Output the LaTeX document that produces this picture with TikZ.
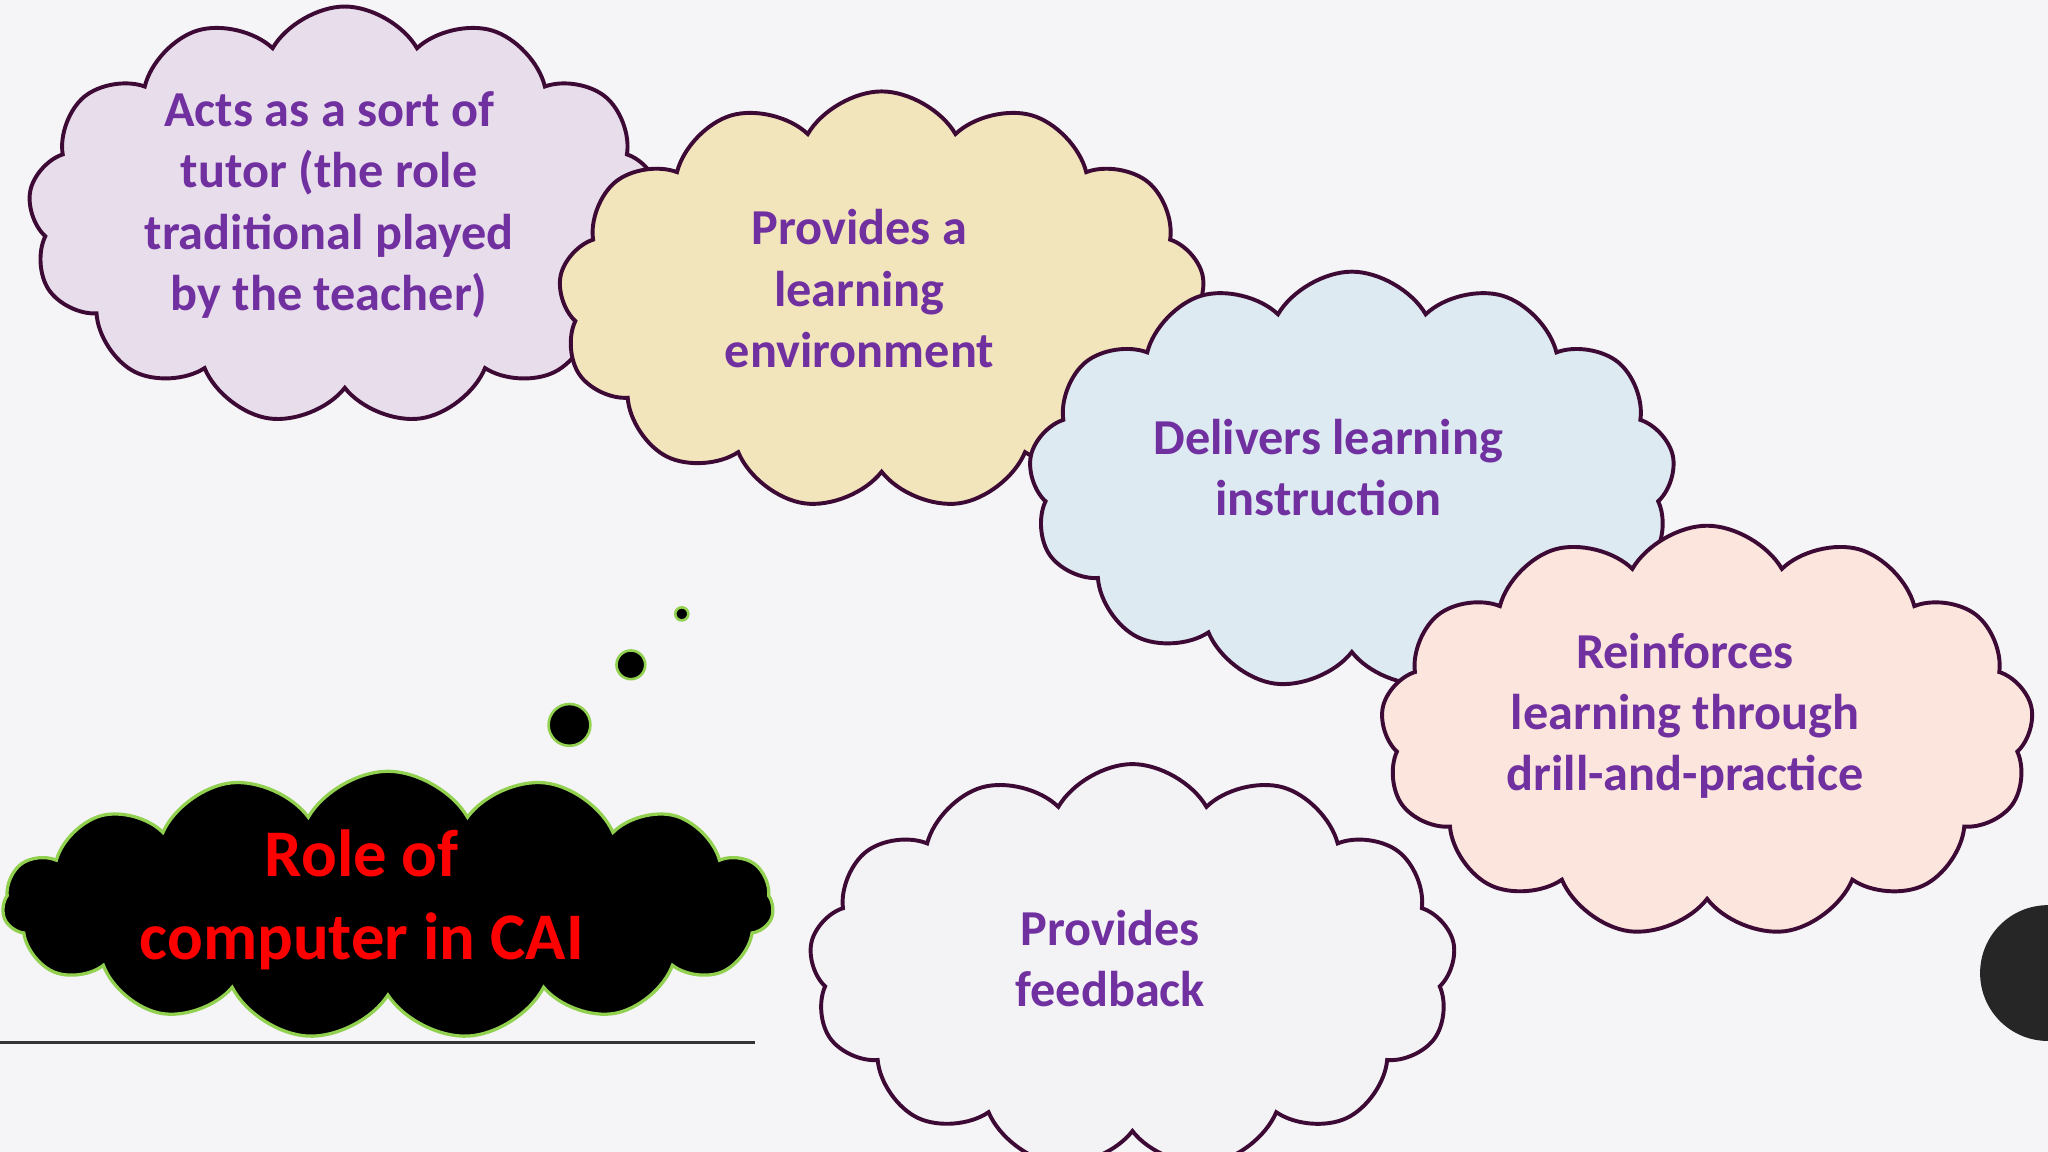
\documentclass[tikz,border=0pt]{standalone}
\usepackage{fontspec}
\setmainfont{Carlito}
\usetikzlibrary{shapes.symbols}
\definecolor{bg}{HTML}{F5F4F7}
\definecolor{edge}{HTML}{3D0A35}
\definecolor{txt}{HTML}{7030A0}
\definecolor{grn}{HTML}{92D050}
\definecolor{fa}{HTML}{E8DDEA}
\definecolor{fb}{HTML}{F2E4BB}
\definecolor{fc}{HTML}{DDEAF2}
\definecolor{fd}{HTML}{FBE5DC}
\definecolor{fe}{HTML}{F3F2F5}
\tikzset{
 cl/.style={cloud, cloud puffs=13, cloud puff arc=120, aspect=1.55, draw=edge, line width=3pt, inner sep=0pt},
 lbl/.style={text=txt, font=\bfseries\fontsize{38.5}{47}\selectfont, align=center},
 bub/.style={circle, fill=black, draw=grn, line width=2pt, inner sep=0pt}
}
\begin{document}
\begin{tikzpicture}[x=1pt,y=-1pt]
\fill[bg] (0,0) rectangle (1568,882);
\useasboundingbox (0,0) rectangle (1568,882);
\node[cl, fill=fa, minimum width=485pt, minimum height=320pt] (c1) at (264,165) {};
\node[lbl] (t1) at (252,157) {Acts as a sort of\\tutor (the role\\traditional played\\by the teacher)};
\node[cl, fill=fb, minimum width=495pt, minimum height=320pt] (c2) at (675,230) {};
\node[lbl] (t2) at (658,221) {Provides a\\learning\\environment};
\node[cl, fill=fc, minimum width=495pt, minimum height=320pt] (c3) at (1035,368) {};
\node[lbl] (t3) at (1017,358) {Delivers learning\\instruction};
\node[cl, fill=fe, minimum width=495pt, minimum height=310pt] (c5) at (867,740) {};
\node[lbl] (t5) at (850,734) {Provides\\feedback};
\node[cl, fill=fd, minimum width=500pt, minimum height=315pt] (c4) at (1307,560) {};
\node[lbl] (t4) at (1290,548) {Reinforces\\learning through\\drill-and-practice};
\node[cloud, cloud puffs=15, cloud puff arc=120, aspect=2.9, fill=black, draw=grn, line width=2.5pt, inner sep=0pt, minimum width=590pt, minimum height=205pt] (c6) at (297,693) {};
\node[text=red, font=\bfseries\fontsize{51}{63}\selectfont, align=center] (t6) at (277,689) {Role of\\computer in CAI};
\node[bub, minimum size=32pt] (b1) at (436,555) {};
\node[bub, minimum size=22pt] (b2) at (483,509) {};
\node[bub, minimum size=10pt] (b3) at (522,470) {};
\coordinate (l1) at (0,798); \coordinate (l2) at (578,798);
\draw[line width=2pt, black!80] (l1) -- (l2);
\fill[black!85] (1568,745) circle (52);
\end{tikzpicture}
\end{document}
